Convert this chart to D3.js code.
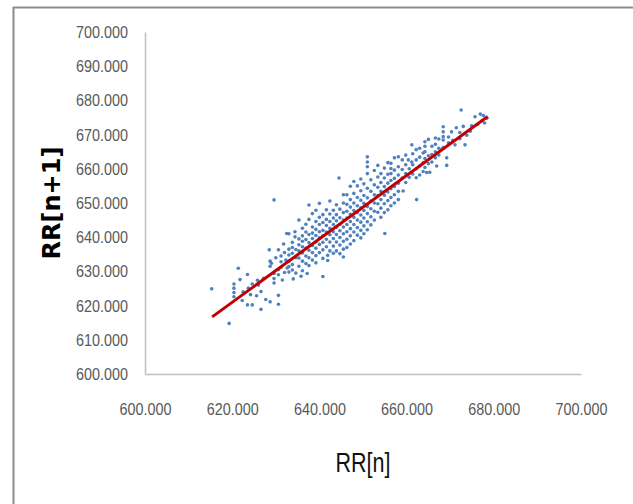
<!DOCTYPE html>
<html>
<head>
<meta charset="utf-8">
<script src="https://cdnjs.cloudflare.com/ajax/libs/d3/7.8.5/d3.min.js"></script>
<style>
  body { margin: 0; background: #fff; }
  .tick text { font-family: "Liberation Sans", Arial, sans-serif; font-size: 17px; fill: #595959; }
</style>
</head>
<body>
<div id="scatter"></div>
<script>
// tick values for both axes
var xTicks = [600, 620, 640, 660, 680, 700];
var yTicks = [600, 610, 620, 630, 640, 650, 660, 670, 680, 690, 700];

// linear trend line (start and end of fitted line)
var trendLine = [[615.4, 616.7], [678.6, 675.3]];

// RR[n], RR[n+1] pairs
var rrPairs = [
  [615.3,624.9],[619.3,614.8],[620.4,626.3],[620.4,625.1],[620.4,623.8],[620.4,622.6],[621.4,630.9],[622.3,621.5],
  [623.5,629.1],[623.5,620.2],[624.6,620.2],[623.7,625.1],[624.6,626.3],[625.6,622.9],[626.6,624.1],[626.6,618.9],
  [627.7,621.8],[628.7,621.1],[625.8,627.4],[627.2,628.0],[622.5,624.0],[621.8,627.6],[624.2,623.2],[626.0,626.0],
  [628.5,636.3],[628.7,633.0],[628.7,631.5],[629.6,650.9],[629.6,629.4],[629.6,627.9],[629.6,626.6],[630.6,623.0],
  [630.6,620.4],[630.6,636.3],[630.6,630.5],[630.6,629.0],[631.2,634.5],[631.2,632.8],[631.2,631.2],[631.5,627.5],
  [631.8,638.0],[632.0,635.5],[632.0,629.7],[632.3,633.3],[632.5,641.1],[632.6,631.0],[629.0,632.4],[630.0,634.0],
  [633.0,636.5],[633.0,634.8],[633.0,633.0],[633.0,631.4],[633.0,629.8],[633.0,641.0],[633.8,638.5],[633.8,637.0],
  [633.8,635.3],[633.8,632.0],[633.8,630.4],[634.4,641.6],[634.4,640.1],[634.6,636.4],[634.6,634.0],[634.6,629.5],
  [635.3,645.0],[635.3,639.5],[635.3,637.8],[635.3,636.0],[635.3,633.9],[635.3,631.5],[636.1,642.6],[636.1,640.4],
  [636.1,638.8],[636.1,637.2],[636.1,635.4],[636.1,633.0],[636.1,630.2],[636.9,643.8],[636.9,641.5],[636.9,639.3],
  [636.9,636.8],[636.9,634.5],[636.9,632.3],[637.6,649.4],[637.6,645.2],[637.6,640.8],[637.6,638.4],[637.6,636.2],
  [637.6,634.0],[637.6,631.7],[638.4,646.9],[638.4,643.0],[638.4,641.2],[638.4,639.6],[638.4,637.6],[638.4,635.5],
  [638.4,633.3],[634.0,627.8],[635.8,628.6],[637.2,629.4],
  [639.2,647.9],[639.2,644.6],[639.2,642.3],[639.2,640.5],[639.2,638.6],[639.2,636.8],[639.2,634.6],[639.2,632.5],
  [640.0,649.9],[640.0,645.8],[640.0,643.7],[640.0,641.6],[640.0,639.8],[640.0,637.9],[640.0,635.5],[640.8,628.5],
  [640.8,646.6],[640.8,644.3],[640.8,642.0],[640.8,640.4],[640.8,638.5],[640.8,636.3],[640.8,633.8],[641.6,648.0],
  [641.6,645.2],[641.6,643.4],[641.6,641.5],[641.6,639.4],[641.6,637.2],[641.9,634.7],[641.9,633.2],[642.4,650.6],
  [642.4,646.8],[642.4,644.6],[642.4,642.6],[642.4,640.7],[642.4,638.6],[642.4,636.0],[643.2,647.9],[643.2,645.6],
  [643.2,643.7],[643.2,641.6],[643.2,639.6],[643.2,637.4],[643.2,635.3],[643.9,649.5],[643.9,646.6],[643.9,644.8],
  [643.9,642.9],[643.9,640.8],[643.9,638.6],[643.9,636.0],[644.5,657.3],[644.7,648.2],[644.7,645.7],[644.7,643.8],
  [644.7,641.9],[644.7,639.9],[644.7,637.7],[644.7,635.2],[645.5,652.4],[645.5,650.0],[645.5,647.2],[645.5,645.0],
  [645.5,643.0],[645.5,641.0],[645.5,638.8],[645.5,636.5],[645.5,634.2],
  [646.3,652.4],[646.3,649.6],[646.3,647.6],[646.3,645.6],[646.3,643.7],[646.3,641.6],[646.3,639.4],[646.3,637.0],
  [647.1,654.9],[647.1,651.0],[647.1,648.8],[647.1,646.7],[647.1,644.6],[647.1,642.5],[647.1,640.4],[647.1,638.0],
  [647.9,656.3],[647.9,652.8],[647.9,650.0],[647.9,647.8],[647.9,645.8],[647.9,643.7],[647.9,641.5],[647.9,639.0],
  [648.7,655.0],[648.7,651.6],[648.7,649.2],[648.7,647.2],[648.7,645.0],[648.7,642.8],[648.7,640.6],[649.5,657.0],
  [649.5,653.6],[649.5,650.8],[649.5,648.6],[649.5,646.5],[649.5,644.4],[649.5,642.0],[649.5,639.8],[650.2,655.6],
  [650.2,652.2],[650.2,649.9],[650.2,647.8],[650.2,645.6],[650.2,643.3],[650.2,641.0],[651.0,663.5],[651.0,662.0],
  [651.0,660.6],[651.0,658.6],[651.0,654.3],[651.0,651.5],[651.0,649.0],[651.0,646.9],[651.0,644.5],[651.0,642.2],
  [651.8,656.8],[651.8,653.4],[651.8,650.6],[651.8,648.3],[651.8,646.0],[651.8,643.6],
  [652.6,659.5],[652.6,655.3],[652.6,652.4],[652.6,650.0],[652.6,647.6],[652.6,645.0],[653.4,661.0],[653.4,657.6],
  [653.4,654.6],[653.4,652.2],[653.4,649.8],[653.4,647.3],[654.1,658.6],[654.1,656.0],[654.1,653.4],[654.1,651.0],
  [654.1,648.5],[654.1,645.8],[655.0,641.1],[654.9,660.2],[654.9,657.3],[654.9,654.8],[654.9,652.3],[654.9,649.8],
  [654.9,647.2],[655.7,661.8],[655.7,658.4],[655.7,655.8],[655.7,653.2],[655.7,650.7],[655.7,648.0],[656.4,661.6],
  [656.4,660.1],[656.4,658.6],[656.4,656.6],[656.4,654.2],[656.4,651.6],[656.4,649.2],[657.2,663.2],[657.2,659.6],
  [657.2,657.2],[657.2,654.8],[657.2,652.4],[657.2,650.0],[658.1,663.5],[658.1,660.6],[658.1,658.2],[658.1,655.8],
  [658.1,653.4],[658.1,651.0],
  [659.0,662.6],[659.0,659.8],[659.0,657.3],[659.2,653.5],[659.8,664.0],[659.8,661.2],[659.8,658.6],[659.8,656.0],
  [660.4,662.6],[660.6,660.0],[660.6,657.5],[661.2,667.0],[661.2,662.0],[661.4,664.4],[661.4,661.2],[661.4,658.5],
  [662.3,651.0],[662.2,665.6],[662.2,662.6],[662.2,660.0],[662.2,657.4],[663.0,666.0],[663.0,663.4],[663.0,660.8],
  [663.0,658.2],[663.8,664.6],[663.8,661.8],[663.8,659.2],[664.2,667.9],[664.2,666.6],[664.2,665.0],[664.2,663.0],
  [664.2,660.4],[664.6,658.9],[665.3,659.0],[665.0,668.6],[665.0,663.8],[665.0,661.5],[665.8,666.6],[665.8,664.2],
  [665.8,662.0],[666.6,669.0],[666.6,667.2],[666.6,665.0],[666.6,663.2],[666.9,660.8],
  [667.4,668.7],[667.4,666.0],[667.4,664.0],[668.4,672.3],[668.4,670.8],[668.4,669.4],[668.4,668.4],[668.4,666.2],
  [669.2,661.0],[669.2,663.2],[669.6,669.3],[669.6,667.6],[670.3,670.8],[670.6,668.3],[671.1,667.0],[671.4,672.0],
  [672.2,670.6],[672.2,668.8],[672.5,677.2],[673.0,672.4],[673.4,667.0],[673.8,669.8],[674.6,671.0],[675.7,675.2],
  [676.3,673.0],[676.9,676.0],[677.3,674.0],[677.9,673.4],[678.4,674.8],[677.6,675.6],[674.9,672.6]
];

var svgWidth = 633;
var svgHeight = 504;

var svg = d3.select("#scatter")
    .append("svg")
    .attr("width", svgWidth)
    .attr("height", svgHeight);

//frame lines (top and left only)
svg.append("line")
    .attr("x1", 13).attr("y1", 7.5).attr("x2", svgWidth).attr("y2", 7.5)
    .attr("stroke", "#8c8c8c").attr("stroke-width", 2);
svg.append("line")
    .attr("x1", 13.5).attr("y1", 7).attr("x2", 13.5).attr("y2", svgHeight)
    .attr("stroke", "#8c8c8c").attr("stroke-width", 2);

//scales
var xScale = d3.scaleLinear().domain([600, 700]).range([145, 581]);
var yScale = d3.scaleLinear().domain([600, 700]).range([374, 32]);

var fmt = d3.format(".3f");

//axes
svg.append("g")
    .attr("transform", "translate(0,374)")
    .call(d3.axisBottom(xScale).tickValues(xTicks).tickFormat(fmt).tickSize(0).tickPadding(29));

svg.append("g")
    .attr("transform", "translate(145,0)")
    .call(d3.axisLeft(yScale).tickValues(yTicks).tickFormat(fmt).tickSize(0).tickPadding(17));

//squeeze tick labels to the narrow look of the original
svg.selectAll(".tick text")
    .attr("textLength", 52)
    .attr("lengthAdjust", "spacingAndGlyphs");

svg.selectAll(".domain")
    .attr("stroke", "#bfbfbf")
    .attr("stroke-width", 1.5);

//points
svg.append("g")
    .selectAll("circle")
    .data(rrPairs)
    .enter()
    .append("circle")
    .attr("cx", d => xScale(d[0]))
    .attr("cy", d => yScale(d[1]))
    .attr("r", 1.8)
    .attr("fill", "#4f81bd");

//trend line
svg.append("path")
    .datum(trendLine)
    .attr("d", d3.line().x(d => xScale(d[0])).y(d => yScale(d[1])))
    .attr("stroke", "#c00000")
    .attr("stroke-width", 3)
    .attr("fill", "none");

//axis titles
svg.append("text")
    .attr("x", 363)
    .attr("y", 472)
    .attr("text-anchor", "middle")
    .attr("textLength", 55)
    .attr("lengthAdjust", "spacingAndGlyphs")
    .style("font-family", "'Liberation Sans', Arial, sans-serif")
    .style("font-size", "27px")
    .style("fill", "#111")
    .text("RR[n]");

svg.append("text")
    .attr("transform", "translate(60,203) rotate(-90)")
    .attr("text-anchor", "middle")
    .style("font-family", "'DejaVu Sans', sans-serif")
    .style("font-weight", "bold")
    .style("font-size", "24px")
    .style("fill", "#000")
    .text("RR[n+1]");
</script>
</body>
</html>
